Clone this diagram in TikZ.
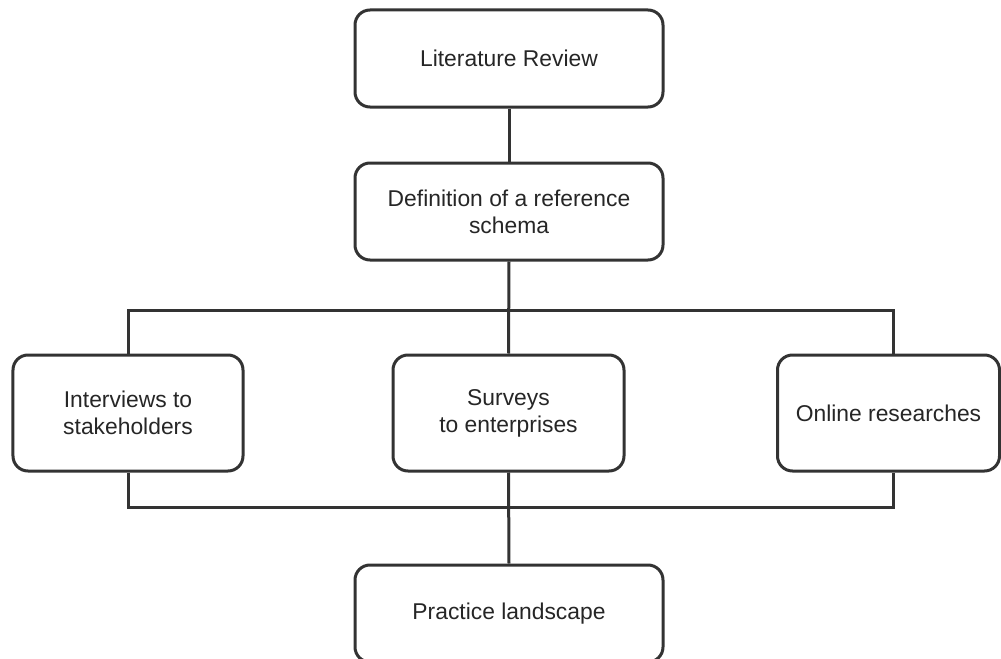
\documentclass[tikz,border=0pt]{standalone}
\usepackage{fontspec}
\setmainfont{Liberation Sans}
\tikzset{
	stage/.style={draw=black!80, line width=0.6mm, rounded corners=3mm, fill=white, align=center, text=black!85, inner sep=0pt, font=\fontsize{13}{15.4}\selectfont},
	link/.style={line width=0.6mm, color=black!80},
}

\begin{document}
\begin{tikzpicture}[x=0.2mm, y=-0.2mm]
		%%%%% START %%%%%
		
		\useasboundingbox (0, 0) rectangle (1001, 659);
		
		\node[stage, minimum width=61.6mm, minimum height=19.4mm] (lit) at (509, 58.5) {Literature Review};
		\node[stage, minimum width=61.6mm, minimum height=19.4mm] (def) at (509, 211.5) {Definition of a reference\\schema};
		
		\node[stage, minimum width=46mm, minimum height=23.2mm] (int) at (128, 413) {Interviews to\\stakeholders};
		\node[stage, minimum width=46.2mm, minimum height=23.2mm] (sur) at (508.5, 413) {Surveys\\to enterprises};
		\node[stage, minimum width=44.4mm, minimum height=23.2mm] (onl) at (888.5, 413) {Online researches};
		
		\node[stage, minimum width=61.6mm, minimum height=19.4mm] (prc) at (509, 613.5) {Practice landscape};
		
		\coordinate (topbus) at (509, 310);
		\coordinate (lowbus) at (509, 507);
		
		\draw[link] (lit.south) -- (def.north);
		\draw[link] (def.south) -- (sur.north);
		\draw[link] (int.north) |- (topbus) -| ([xshift=0.9mm]onl.north);
		
		\draw[link] (int.south) |- (lowbus) -| ([xshift=0.9mm]onl.south);
		\draw[link] (sur.south) -- (prc.north);
		
		%%%%% END %%%%%
	\end{tikzpicture}
\end{document}
